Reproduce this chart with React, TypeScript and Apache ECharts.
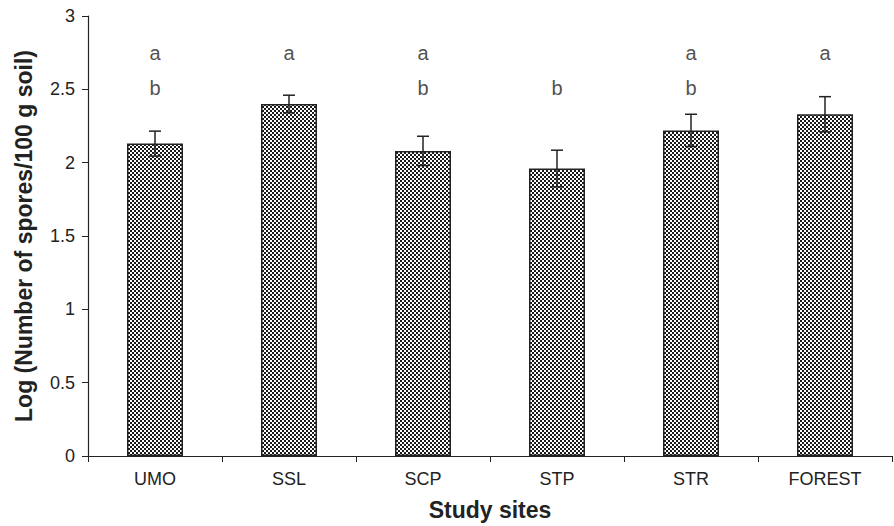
import React, { useEffect, useRef } from "react";
import * as echarts from "echarts";

const categories = ["UMO", "SSL", "SCP", "STP", "STR", "FOREST"];
const means = [2.13, 2.4, 2.08, 1.96, 2.22, 2.33];
const errors = [0.085, 0.06, 0.1, 0.125, 0.11, 0.12];
const upperLetters = ["a", "a", "a", "", "a", "a"];
const lowerLetters = ["b", "", "b", "b", "b", ""];
const yTicks = [0, 0.5, 1, 1.5, 2, 2.5, 3];

const UPPER_Y = 2.75;
const LOWER_Y = 2.51;
const FONT = "'Liberation Sans', Arial, sans-serif";

function makePattern(): HTMLCanvasElement {
  const c = document.createElement("canvas");
  c.width = 4;
  c.height = 4;
  const ctx = c.getContext("2d")!;
  ctx.fillStyle = "#ffffff";
  ctx.fillRect(0, 0, 4, 4);
  ctx.fillStyle = "#1a1a1a";
  ctx.fillRect(0, 0, 2, 2);
  ctx.fillRect(2, 2, 2, 2);
  return c;
}

export default function App() {
  const ref = useRef<HTMLDivElement>(null);
  useEffect(() => {
    if (!ref.current) return;
    const chart = echarts.init(ref.current, undefined, { renderer: "svg" });
    const pattern = makePattern();
    const letterSeries = (letters: string[], yv: number) => ({
      type: "scatter",
      symbolSize: 0,
      silent: true,
      data: letters
        .map((l, i) => (l ? { value: [i, yv], name: l } : null))
        .filter((d) => d !== null),
      label: {
        show: true,
        position: "inside",
        formatter: (p: any) => p.name,
        color: "#222",
        fontSize: 20,
        fontFamily: FONT,
      },
    });
    chart.setOption({
      animation: false,
      grid: { left: 88, right: 2, top: 16, bottom: 69 },
      xAxis: {
        type: "category",
        data: categories,
        boundaryGap: true,
        axisLine: { lineStyle: { color: "#222", width: 1.2 } },
        axisTick: { show: true, length: 6, alignWithLabel: false, lineStyle: { color: "#222" } },
        axisLabel: { color: "#222", fontSize: 18, fontFamily: FONT, margin: 14 },
        name: "Study sites",
        nameLocation: "middle",
        nameGap: 42,
        nameTextStyle: { fontSize: 23, fontWeight: "bold", color: "#222", fontFamily: FONT },
      },
      yAxis: {
        type: "value",
        min: yTicks[0],
        max: yTicks[yTicks.length - 1],
        interval: 0.5,
        splitLine: { show: false },
        axisLine: { show: true, lineStyle: { color: "#222", width: 1.2 } },
        axisTick: { show: true, length: 6, lineStyle: { color: "#222" } },
        axisLabel: { color: "#222", fontSize: 18, fontFamily: FONT, margin: 13 },
        name: "Log (Number of spores/100 g soil)",
        nameLocation: "middle",
        nameGap: 53,
        nameTextStyle: { fontSize: 23, fontWeight: "bold", color: "#222", fontFamily: FONT },
      },
      series: [
        {
          type: "bar",
          data: means,
          barWidth: 56,
          itemStyle: {
            color: { image: pattern, repeat: "repeat" },
            borderColor: "#222",
            borderWidth: 1.5,
          },
        },
        {
          type: "custom",
          silent: true,
          data: means.map((m, i) => [i, m - errors[i], m + errors[i]]),
          renderItem: (params: any, api: any) => {
            const x = api.value(0);
            const lo = api.coord([x, api.value(1)]);
            const hi = api.coord([x, api.value(2)]);
            const cap = 6;
            const style = { stroke: "#222", lineWidth: 1.5 };
            return {
              type: "group",
              children: [
                { type: "line", shape: { x1: hi[0], y1: hi[1], x2: lo[0], y2: lo[1] }, style },
                { type: "line", shape: { x1: hi[0] - cap, y1: hi[1], x2: hi[0] + cap, y2: hi[1] }, style },
                { type: "line", shape: { x1: lo[0] - cap, y1: lo[1], x2: lo[0] + cap, y2: lo[1] }, style },
              ],
            };
          },
          z: 5,
        },
        letterSeries(upperLetters, UPPER_Y),
        letterSeries(lowerLetters, LOWER_Y),
      ],
    });
    return () => chart.dispose();
  }, []);
  return (
    <div
      ref={ref}
      style={{ position: "fixed", left: 0, top: 0, width: 894, height: 526, background: "#fff" }}
    />
  );
}
